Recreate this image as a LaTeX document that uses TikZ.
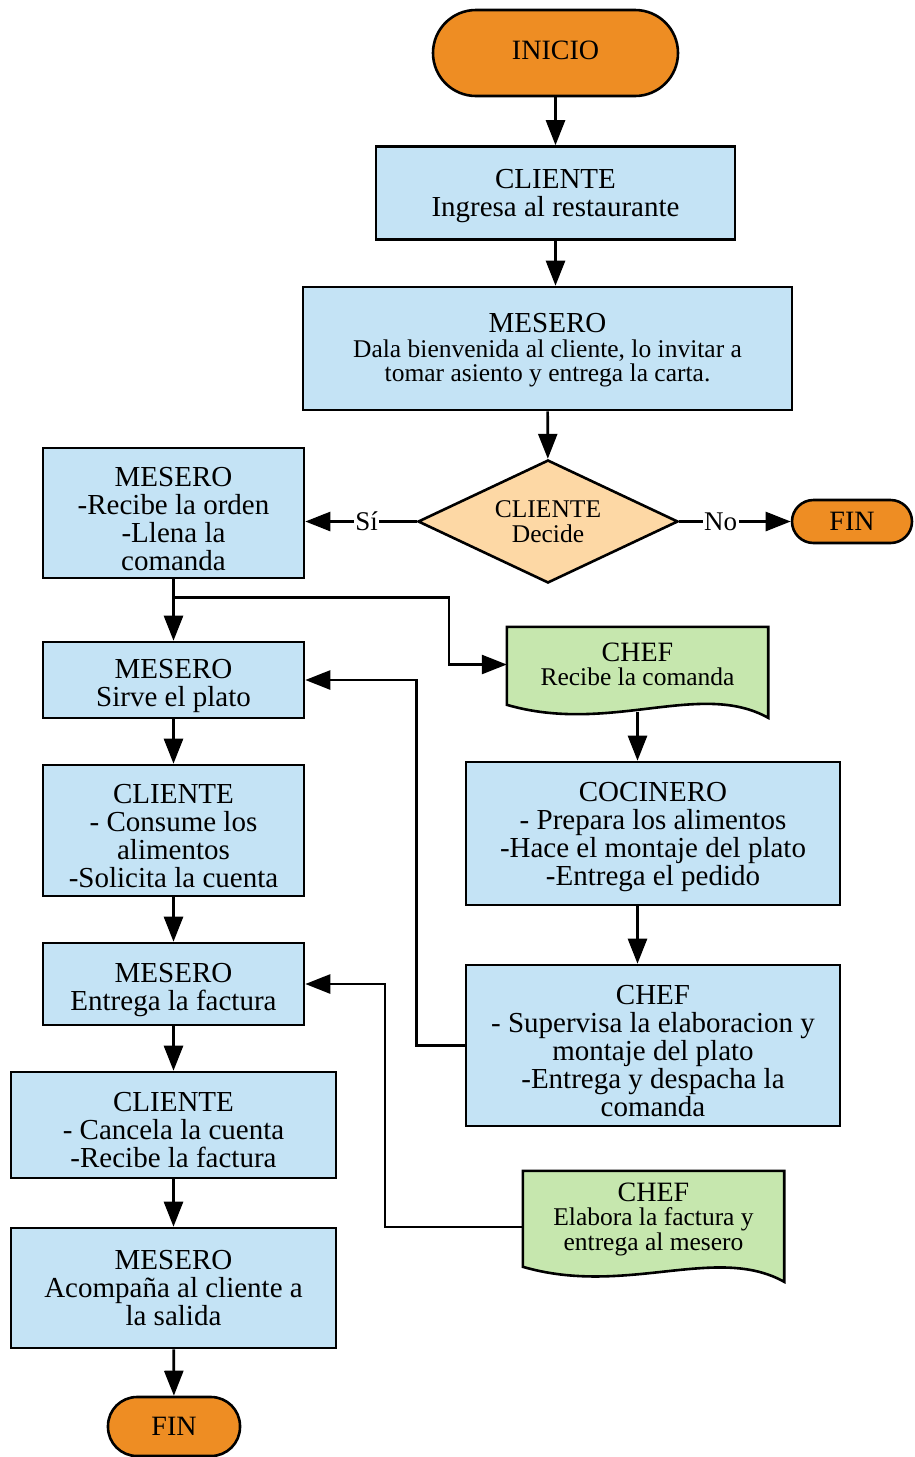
\documentclass[tikz,border=0pt]{standalone}
\usepackage{fontspec}
\setmainfont{Liberation Serif}
\usetikzlibrary{arrows.meta,shapes.geometric,calc,backgrounds}

\definecolor{boxblue}{HTML}{C4E3F5}
\definecolor{termorange}{HTML}{EE8D23}
\definecolor{decpeach}{HTML}{FDD8A5}
\definecolor{docgreen}{HTML}{C6E7AE}

\newcommand\fmain{\fontsize{29}{28}\selectfont}
\newcommand\fsmall{\fontsize{25.5}{24.5}\selectfont}
\newcommand\ftitle{\fontsize{28}{27}\selectfont}
% a tall invisible strut on the first line pushes a text block down in its box
\newcommand\dropby[1]{\rule{0pt}{#1}}

\tikzset{
  outline/.style={draw=black, line width=2.6pt},
  box/.style={outline, fill=boxblue, rectangle, align=center, inner sep=0pt, font=\fmain},
  term/.style={outline, fill=termorange, rectangle, align=center, inner sep=0pt, font=\ftitle},
  decbox/.style={outline, fill=decpeach, diamond, aspect=2.1, align=center, inner sep=0pt, font=\fsmall},
  docbox/.style={rectangle, align=center, inner sep=0pt, font=\fsmall},
  docshape/.style={outline, fill=docgreen, line join=miter},
  arr/.style={line width=2.6pt, -{Triangle[length=25pt,width=19pt]}},
  lbl/.style={fill=white, inner sep=1.5pt, font=\fontsize{27}{27}\selectfont},
  textlift/.style={execute at end node={\rule[-#1]{0pt}{0pt}}}
}

\begin{document}
\begin{tikzpicture}[x=1pt,y=-1pt]
\useasboundingbox (0,0) rectangle (914,1457);

% main column
\node[term, textlift=6pt, minimum width=245, minimum height=86, rounded corners=43] (ini) at (555.5,53) {INICIO};
\node[box, minimum width=359, minimum height=93] (cliA) at (555.5,193) {\dropby{25pt}CLIENTE\\Ingresa al restaurante};
\node[box, font=\fsmall, minimum width=489, minimum height=123] (mesW) at (547.5,348.5)
  {\dropby{23pt}{\fmain MESERO}\\Dala bienvenida al cliente, lo invitar a\\tomar asiento y entrega la carta.};
\node[decbox, minimum width=260, minimum height=123] (dec) at (548,521.5) {CLIENTE\\Decide};
\node[term, minimum width=120, minimum height=43, rounded corners=21.5] (finA) at (852,521.5) {FIN};

% left column
\node[box, minimum width=261, minimum height=130] (mesA) at (173.5,513) {\dropby{31pt}MESERO\\-Recibe la orden\\-Llena la\\comanda};
\node[box, minimum width=261, minimum height=76] (mesB) at (173.5,680) {\dropby{31pt}MESERO\\Sirve el plato};
\node[box, minimum width=261, minimum height=131] (cliB) at (173.5,830.5) {\dropby{31pt}CLIENTE\\- Consume los\\alimentos\\-Solicita la cuenta};
\node[box, minimum width=261, minimum height=82] (mesC) at (173.5,984) {\dropby{31pt}MESERO\\Entrega la factura};
\node[box, minimum width=325, minimum height=106] (cliC) at (173.5,1125) {\dropby{29pt}CLIENTE\\- Cancela la cuenta\\-Recibe la factura};
\node[box, minimum width=325, minimum height=120] (mesD) at (173.5,1288) {MESERO\\Acompaña al cliente a\\la salida};
\node[term, minimum width=132, minimum height=59, rounded corners=29] (finB) at (174,1426.5) {FIN};

% right column
\node[docbox, minimum width=261, minimum height=75] (chef1) at (637.5,664.5) {{\ftitle CHEF}\\Recibe la comanda};
\node[box, minimum width=374, minimum height=143] (coc) at (653,833.5)
  {\dropby{27pt}COCINERO\\- Prepara los alimentos\\-Hace el montaje del plato\\-Entrega el pedido};
\node[box, minimum width=374, minimum height=161] (chef3) at (653,1045.5)
  {\dropby{31pt}CHEF\\- Supervisa la elaboracion y\\montaje del plato\\-Entrega y despacha la\\comanda};
\node[docbox, minimum width=261, minimum height=96] (chef2) at (653.5,1219) {{\ftitle CHEF}\\Elabora la factura y\\entrega al mesero};

% document outlines with wavy lower edge
\begin{scope}[on background layer]
  \filldraw[docshape] (chef1.north west) -- (chef1.north east) -- ($(chef1.north east)+(0,91)$)
    .. controls +(-68,-38) and +(103,30) .. ($(chef1.north west)+(0,78)$) -- cycle;
  \filldraw[docshape] (chef2.north west) -- (chef2.north east) -- ($(chef2.north east)+(0,111)$)
    .. controls +(-68,-38) and +(103,30) .. ($(chef2.north west)+(0,96)$) -- cycle;
\end{scope}

% connectors
\draw[arr] (ini) -- (cliA);
\draw[arr] (cliA.south) -- (cliA.south |- mesW.north);
\draw[arr] (mesW) -- (dec);
\draw[arr] (dec.west) -- node[lbl, pos=.45] {Sí} (dec.west -| mesA.east);
\draw[arr] (dec.east) -- node[lbl, pos=.37] {No} (finA.west);

\draw[arr] (mesA) -- (mesB);
\coordinate (split) at ($(mesA.south)+(0,18)$);
\draw[arr] (split) -| ($(chef1.west)+(-58,0)$) -- (chef1.west);

\coordinate (c1b) at ($(chef1.south)+(0,10)$);
\draw[arr] (c1b) -- (c1b |- coc.north);
\draw[arr] (c1b |- coc.south) -- (c1b |- chef3.north);
\draw[arr] (chef3.west) -- ++(-48,0) |- (mesB.east);

\draw[arr] (mesB) -- (cliB);
\draw[arr] (cliB) -- (mesC);
\draw[arr] (mesC) -- (cliC);
\draw[arr] (cliC) -- (mesD);
\draw[arr] (mesD) -- (finB);
\draw[arr] ($(chef2.west)+(0,8)$) -- ++(-138,0) |- (mesC.east);
\end{tikzpicture}
\end{document}
